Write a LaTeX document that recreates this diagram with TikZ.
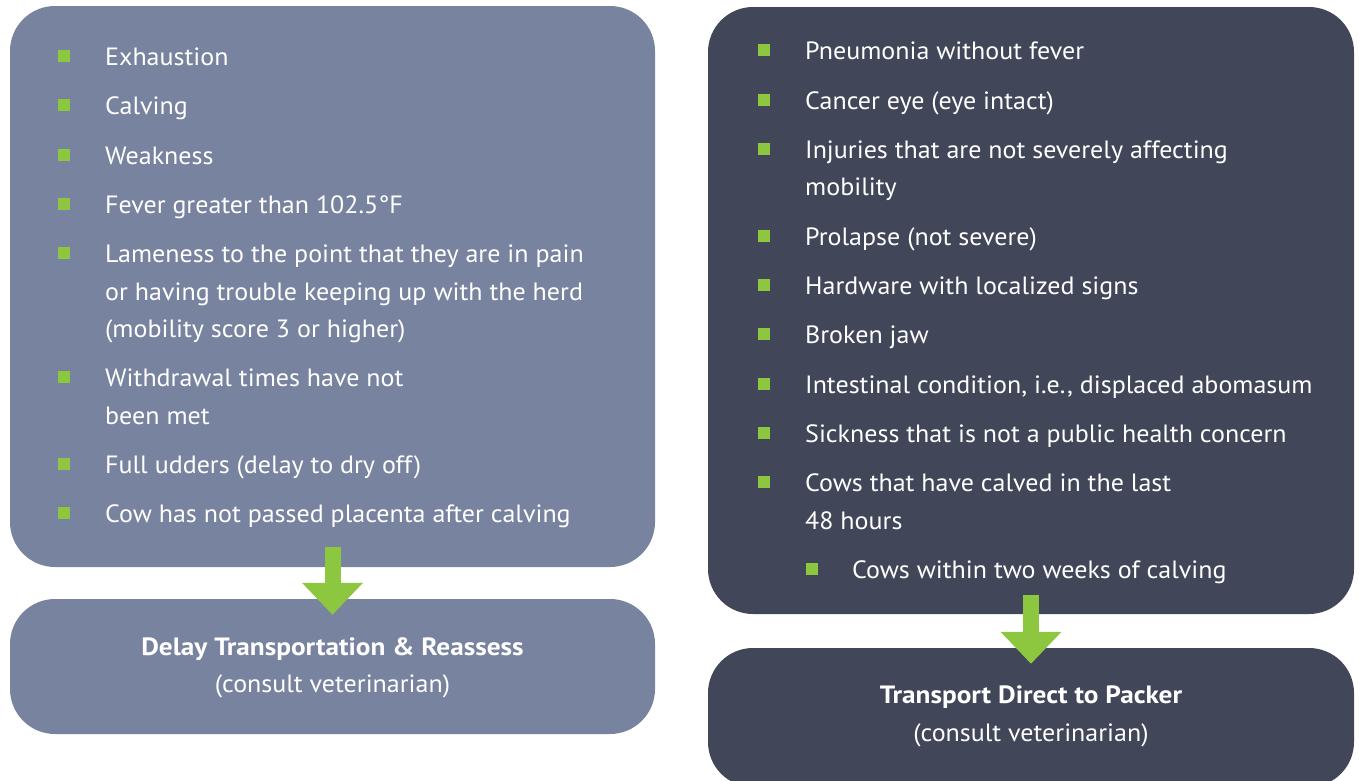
\documentclass[tikz,border=0pt]{standalone}
\usepackage{fontspec}
\setmainfont{PT Sans}[FakeStretch=1.04,BoldFeatures={FakeStretch=1.09}]
\usetikzlibrary{arrows.meta}
\definecolor{lightslate}{HTML}{78839F}
\definecolor{darkslate}{HTML}{414659}
\definecolor{leaf}{HTML}{8DC63F}
\begin{document}
\begin{tikzpicture}[x=1pt,y=-1pt,
  panel/.style={rectangle,rounded corners=45pt,inner sep=0pt,draw=none},
  item/.style={anchor=base west,inner sep=0pt,text=white,font=\fontsize{25}{30}\selectfont},
  title/.style={anchor=base,inner sep=0pt,text=white,font=\bfseries\fontsize{25}{30}\selectfont},
  sub/.style={anchor=base,inner sep=0pt,text=white,font=\fontsize{25}{30}\selectfont},
  bul/.style={fill=leaf,draw=none,minimum size=12pt,inner sep=0pt},
  blockarrow/.style={draw=leaf,line width=16pt,-{Triangle[width=59pt,length=32pt]}}]
\useasboundingbox (0,0) rectangle (1359,780);
\begin{scope}
\clip (0,0) rectangle (1359,780);
% panels
\node[panel,fill=lightslate,minimum width=645pt,minimum height=561pt] (lt) at (332.5,286.5) {};
\node[panel,fill=lightslate,minimum width=645pt,minimum height=135pt] (lb) at (332.5,666.5) {};
\node[panel,fill=darkslate,minimum width=646pt,minimum height=607pt] (rt) at (1031,310.5) {};
\node[panel,fill=darkslate,minimum width=646pt,minimum height=139pt] (rb) at (1031,717.5) {};
\end{scope}
% left list
\foreach \n/\y in {1/65,2/114,3/164,4/213,5/262,6/386,7/473,8/522}
  \node[bul] (lb\n) at (64,\y-9.5) {};
\node[item] (l1) at (105,65) {Exhaustion};
\node[item] (l2) at (105,114) {Calving};
\node[item] (l3) at (105,164) {Weakness};
\node[item] (l4) at (105,213) {Fever greater than 102.5°F};
\node[item] (l5a) at (105,262) {Lameness to the point that they are in pain};
\node[item] (l5b) at (105,300) {or having trouble keeping up with the herd};
\node[item] (l5c) at (105,337) {(mobility score 3 or higher)};
\node[item] (l6a) at (105,386) {Withdrawal times have not};
\node[item] (l6b) at (105,424) {been met};
\node[item] (l7) at (105,473) {Full udders (delay to dry off)};
\node[item] (l8) at (105,522) {Cow has not passed placenta after calving};
% right list
\foreach \n/\y in {1/59,2/109,3/158,4/245,5/294,6/343,7/393,8/442,9/491}
  \node[bul] (rbul\n) at (764,\y-9.5) {};
\node[bul] (rbul10) at (812,578-9.5) {};
\node[item] (r1) at (805,59) {Pneumonia without fever};
\node[item] (r2) at (805,109) {Cancer eye (eye intact)};
\node[item] (r3a) at (805,158) {Injuries that are not severely affecting};
\node[item] (r3b) at (805,195) {mobility};
\node[item] (r4) at (805,245) {Prolapse (not severe)};
\node[item] (r5) at (805,294) {Hardware with localized signs};
\node[item] (r6) at (805,343) {Broken jaw};
\node[item] (r7) at (805,393) {Intestinal condition, i.e., displaced abomasum};
\node[item] (r8) at (805,442) {Sickness that is not a public health concern};
\node[item] (r9a) at (805,491) {Cows that have calved in the last};
\node[item] (r9b) at (805,529) {48 hours};
\node[item] (r10) at (852,578) {Cows within two weeks of calving};
% outcomes
\node[title] (lbt) at (332.5,655) {Delay Transportation \& Reassess};
\node[sub] (lbs) at (332.5,692) {(consult veterinarian)};
\node[title] (rbt) at (1031,703) {Transport Direct to Packer};
\node[sub] (rbs) at (1031,741) {(consult veterinarian)};
% arrows
\draw[blockarrow] ([yshift=20pt]lt.south) -- ([yshift=-16pt]lb.north);
\draw[blockarrow] ([yshift=19pt]rt.south) -- ([yshift=-16pt]rb.north);
\end{tikzpicture}
\end{document}
